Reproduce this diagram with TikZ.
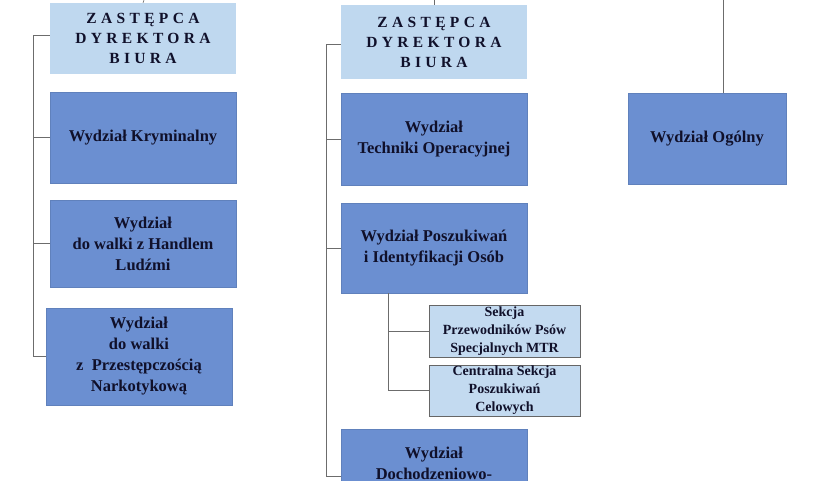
\documentclass[tikz,border=0pt]{standalone}
\usepackage{fontspec}
\setmainfont{Liberation Serif}
\usetikzlibrary{positioning}
\definecolor{dept}{HTML}{6B8FD1}
\definecolor{head}{HTML}{BFD8EF}
\definecolor{sect}{HTML}{C3DAF0}
\definecolor{ink}{HTML}{10102A}
\tikzset{
  dept/.style={fill=dept,draw=dept!90!black,line width=0.4pt,text=ink,font=\bfseries\fontsize{16.5}{21}\selectfont,align=center,inner sep=0pt},
  head/.style={fill=head,text=ink,font=\bfseries\fontsize{15.5}{20}\selectfont\addfontfeatures{LetterSpace=28},align=center,inner sep=0pt},
  sect/.style={fill=sect,draw=gray!80!black,line width=0.5pt,text=ink,font=\bfseries\fontsize{14}{18}\selectfont,align=center,inner sep=0pt},
  link/.style={draw=gray!85!black,line width=0.6pt}
}
\begin{document}
\begin{tikzpicture}[x=1pt,y=-1pt]
\useasboundingbox (0,0) rectangle (840,480);
\clip (0,0) rectangle (840,480);
% left column
\node[head,minimum width=186pt,minimum height=71pt] (zl) at (143,38.5) {ZASTĘPCA\\DYREKTORA\\BIURA};
\node[dept,minimum width=186pt,minimum height=91pt] (kr) at (143,137.5) {Wydział Kryminalny};
\node[dept,minimum width=186pt,minimum height=87pt] (hl) at (143,243.5) {Wydział\\do walki z Handlem\\Ludźmi};
\node[dept,minimum width=186pt,minimum height=97pt] (nk) at (139,356.5) {Wydział\\do walki\\z~~Przestępczością\\Narkotykową};
\coordinate (tl) at (144,0);
\coordinate (vl) at (33,35);
\draw[link] (tl) -- (zl.north);
\draw[link] (zl.west |- vl) -- (vl) |- (nk.west);
\draw[link] (vl) |- (kr.west);
\draw[link] (vl) |- (hl.west);
% middle column
\node[head,minimum width=186pt,minimum height=74pt] (zm) at (434,42) {ZASTĘPCA\\DYREKTORA\\BIURA};
\node[dept,minimum width=186pt,minimum height=92pt] (to) at (434,139) {Wydział\\Techniki Operacyjnej};
\node[dept,minimum width=186pt,minimum height=90pt] (po) at (434,248) {Wydział Poszukiwań\\i Identyfikacji Osób};
\node[sect,minimum width=151pt,minimum height=52pt] (mtr) at (504.5,331) {Sekcja\\Przewodników Psów\\Specjalnych MTR};
\node[sect,minimum width=151pt,minimum height=51pt] (cel) at (504.5,390.5) {Centralna Sekcja\\Poszukiwań\\Celowych};
\node[dept,minimum width=186pt,minimum height=100pt,anchor=north,text depth=32pt] (dz) at (434,429) {Wydział\\Dochodzeniowo-};
\coordinate (tm) at (434,0);
\coordinate (vm) at (326,44);
\coordinate (vb) at (326,476);
\coordinate (vs) at (388,293);
\draw[link] (tm) -- (zm.north);
\draw[link] (zm.west |- vm) -- (vm) -- (vb) -- (vb -| dz.west);
\draw[link] (vm) |- (to.west);
\draw[link] (vm) |- (po.west);
\draw[link] (vs) |- (mtr.west);
\draw[link] (vs) |- (cel.west);
% right column
\node[dept,minimum width=158pt,minimum height=91pt] (og) at (707,138.5) {Wydział Ogólny};
\coordinate (tr) at (723,0);
\draw[link] (tr) -- (tr |- og.north);
\end{tikzpicture}
\end{document}
